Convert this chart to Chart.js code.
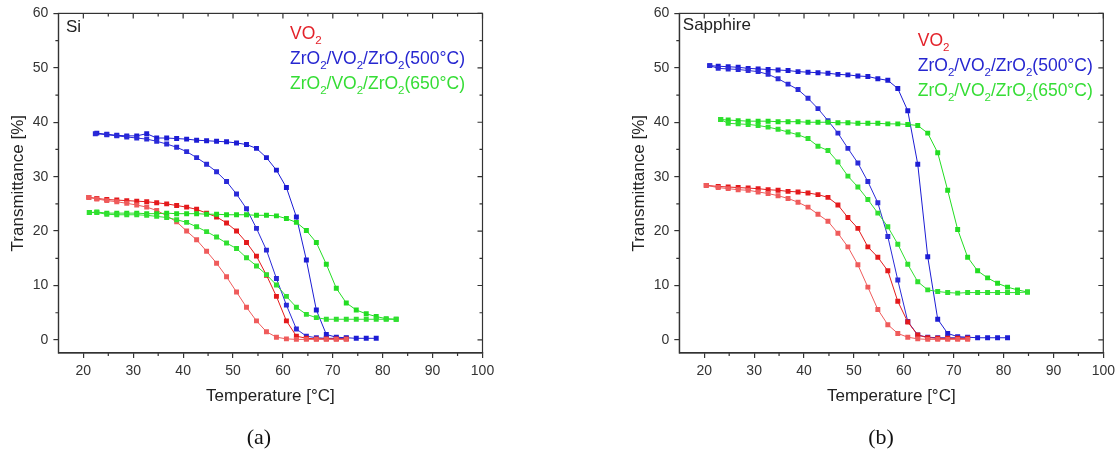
<!DOCTYPE html>
<html>
<head>
<meta charset="utf-8">
<script src="https://cdn.jsdelivr.net/npm/chart.js@4.4.1/dist/chart.umd.min.js"></script>
<style>
body { margin: 0; background: #fff; width: 1120px; height: 452px; overflow: hidden; position: relative; }
.panel { position: absolute; top: 0; width: 560px; height: 452px; }
.cap { position: absolute; top: 425px; width: 60px; line-height: 24px; text-align: center; font-family: "Liberation Serif", "Times New Roman", serif; font-size: 22px; color: #111; }
</style>
</head>
<body>
<div class="panel" style="left:0"><canvas id="chartA" width="560" height="452"></canvas></div>
<div class="panel" style="left:560px"><canvas id="chartB" width="560" height="452"></canvas></div>
<div class="cap" style="left:229px">(a)</div>
<div class="cap" style="left:851px">(b)</div>
<script>
// axis ticks
const xTicks = [20, 30, 40, 50, 60, 70, 80, 90, 100];
const yTicks = [0, 10, 20, 30, 40, 50, 60];

// legend text: [text, isSubscript]
const seriesLabels = [
    [['VO', 0], ['2', 1]],
    [['ZrO', 0], ['2', 1], ['/VO', 0], ['2', 1], ['/ZrO', 0], ['2', 1], ['(500°C)', 0]],
    [['ZrO', 0], ['2', 1], ['/VO', 0], ['2', 1], ['/ZrO', 0], ['2', 1], ['(650°C)', 0]]
];

// ---- (a) Si substrate ----
const redHeatT_A = [21.1, 22.7, 24.7, 26.7, 28.7, 30.7, 32.7, 34.7, 36.7, 38.7, 40.7, 42.7, 44.7, 46.7, 48.7, 50.7, 52.7, 54.7, 56.7, 58.7, 60.7, 62.7, 64.7, 66.7, 68.7, 70.7, 72.7];
const redHeatV_A = [26.2, 26.0, 25.8, 25.7, 25.6, 25.5, 25.4, 25.2, 25.0, 24.7, 24.4, 24.0, 23.3, 22.6, 21.5, 20.0, 17.9, 15.4, 11.9, 8.0, 3.5, 0.7, 0.3, 0.2, 0.2, 0.2, 0.2];
const redCoolV_A = [26.2, 25.9, 25.6, 25.4, 25.1, 24.8, 24.4, 23.8, 22.8, 21.7, 20.0, 18.4, 16.3, 14.1, 11.6, 8.8, 6.0, 3.5, 1.5, 0.5, 0.2, 0.1, 0.1, 0.1, 0.1, 0.1, 0.1];

const blueHeatT_A = [22.7, 24.7, 26.7, 28.7, 30.7, 32.7, 34.7, 36.7, 38.7, 40.7, 42.7, 44.7, 46.7, 48.7, 50.7, 52.7, 54.7, 56.7, 58.7, 60.7, 62.7, 64.7, 66.7, 68.7, 70.7, 72.7, 74.7, 76.7, 78.7];
const blueHeatV_A = [38.0, 37.8, 37.6, 37.5, 37.5, 37.9, 37.1, 37.1, 37.0, 36.9, 36.7, 36.6, 36.5, 36.4, 36.2, 35.9, 35.2, 33.5, 31.2, 28.0, 22.6, 14.7, 5.5, 1.0, 0.5, 0.4, 0.3, 0.3, 0.3];
const blueCoolT_A = [22.4, 24.7, 26.7, 28.7, 30.7, 32.7, 34.7, 36.7, 38.7, 40.7, 42.7, 44.7, 46.7, 48.7, 50.7, 52.7, 54.7, 56.7, 58.7, 60.7, 62.7, 64.7, 66.7, 68.7, 70.7, 72.7];
const blueCoolV_A = [37.9, 37.7, 37.5, 37.3, 37.1, 36.9, 36.5, 36.0, 35.4, 34.6, 33.5, 32.3, 30.9, 29.1, 26.8, 24.1, 20.5, 16.5, 11.3, 6.4, 2.0, 0.7, 0.4, 0.3, 0.3, 0.3];

const greenT_A = [21.2, 22.7, 24.7, 26.7, 28.7, 30.7, 32.7, 34.7, 36.7, 38.7, 40.7, 42.7, 44.7, 46.7, 48.7, 50.7, 52.7, 54.7, 56.7, 58.7, 60.7, 62.7, 64.7, 66.7, 68.7, 70.7, 72.7, 74.7, 76.7, 78.7, 80.7, 82.7];
const greenHeatV_A = [23.4, 23.5, 23.3, 23.3, 23.3, 23.3, 23.2, 23.2, 23.3, 23.2, 23.2, 23.2, 23.1, 23.1, 23.0, 23.0, 23.0, 22.9, 22.9, 22.8, 22.3, 21.6, 20.1, 17.9, 13.9, 9.5, 6.8, 5.5, 4.8, 4.3, 3.9, 3.8];
const greenCoolV_A = [23.4, 23.4, 23.1, 23.0, 23.0, 23.0, 22.9, 22.7, 22.5, 22.1, 21.6, 20.8, 19.9, 18.9, 17.8, 16.8, 15.1, 13.6, 12.0, 10.1, 8.0, 6.0, 4.7, 4.1, 3.8, 3.8, 3.8, 3.8, 3.8, 3.8, 3.8, 3.8];

// ---- (b) Sapphire substrate ----
const redT_B = [20.4, 22.8, 24.8, 26.8, 28.8, 30.8, 32.8, 34.8, 36.8, 38.8, 40.8, 42.8, 44.8, 46.8, 48.8, 50.8, 52.8, 54.8, 56.8, 58.8, 60.8, 62.8, 64.8, 66.8, 68.8, 70.8, 72.8];
const redHeatV_B = [28.4, 28.2, 28.1, 28.0, 27.9, 27.8, 27.6, 27.5, 27.3, 27.2, 27.0, 26.7, 26.2, 24.8, 22.5, 20.5, 17.1, 15.2, 12.7, 7.1, 3.3, 0.9, 0.4, 0.3, 0.3, 0.3, 0.3];
const redCoolV_B = [28.4, 28.0, 27.8, 27.6, 27.5, 27.2, 26.9, 26.5, 26.0, 25.3, 24.4, 23.1, 21.8, 19.6, 17.1, 13.8, 9.7, 5.6, 2.8, 1.2, 0.5, 0.2, 0.1, 0.1, 0.1, 0.1, 0.1];

const blueHeatT_B = [21.1, 22.8, 24.8, 26.8, 28.8, 30.8, 32.8, 34.8, 36.8, 38.8, 40.8, 42.8, 44.8, 46.8, 48.8, 50.8, 52.8, 54.8, 56.8, 58.8, 60.8, 62.8, 64.8, 66.8, 68.8, 70.8, 72.8, 74.8, 76.8, 78.8, 80.8];
const blueHeatV_B = [50.4, 50.3, 50.2, 50.1, 49.9, 49.8, 49.7, 49.6, 49.5, 49.3, 49.2, 49.1, 49.0, 48.8, 48.7, 48.5, 48.4, 48.0, 47.7, 46.2, 42.1, 32.3, 15.3, 3.8, 1.2, 0.6, 0.5, 0.4, 0.4, 0.4, 0.4];
const blueCoolT_B = [21.1, 22.8, 24.8, 26.8, 28.8, 30.8, 32.8, 34.8, 36.8, 38.8, 40.8, 42.8, 44.8, 46.8, 48.8, 50.8, 52.8, 54.8, 56.8, 58.8, 60.8, 62.8, 64.8, 66.8, 68.8, 70.8, 72.8];
const blueCoolV_B = [50.4, 49.9, 49.8, 49.7, 49.5, 49.3, 48.8, 48.0, 47.0, 46.0, 44.4, 42.5, 40.3, 38.0, 35.2, 32.5, 29.1, 25.2, 19.0, 11.0, 3.4, 0.9, 0.5, 0.4, 0.4, 0.4, 0.4];

const greenT_B = [23.3, 24.8, 26.8, 28.8, 30.8, 32.8, 34.8, 36.8, 38.8, 40.8, 42.8, 44.8, 46.8, 48.8, 50.8, 52.8, 54.8, 56.8, 58.8, 60.8, 62.8, 64.8, 66.8, 68.8, 70.8, 72.8, 74.8, 76.8, 78.8, 80.8, 82.8, 84.8];
const greenHeatV_B = [40.5, 40.4, 40.3, 40.2, 40.2, 40.2, 40.1, 40.1, 40.1, 40.0, 40.0, 40.0, 39.9, 39.9, 39.8, 39.8, 39.8, 39.7, 39.7, 39.6, 39.4, 38.0, 34.4, 27.5, 20.3, 15.2, 12.7, 11.4, 10.4, 9.7, 9.2, 8.8];
const greenCoolV_B = [40.5, 39.8, 39.7, 39.6, 39.4, 39.1, 38.7, 38.2, 37.7, 37.0, 35.6, 34.8, 32.7, 30.1, 28.1, 25.8, 23.3, 20.8, 17.6, 13.9, 10.7, 9.2, 8.9, 8.7, 8.6, 8.7, 8.7, 8.7, 8.7, 8.7, 8.7, 8.8];

const RED = '#e41a1c', RED_LIGHT = '#ef5b5b';
const BLUE = '#1c1cd4', BLUE_LIGHT = '#2a2ad8';
const GREEN = '#22dd22', GREEN_LIGHT = '#30e030';
const labelColors = ['#e3222a', '#2626d0', '#35dd35'];
const FONT = '"Liberation Sans", Arial, sans-serif';

function branch(T, V, color) {
    return {
        data: T.map((t, i) => ({ x: t, y: V[i] })),
        borderColor: color,
        backgroundColor: color,
        borderWidth: 1,
        pointStyle: 'rect',
        pointRadius: 3.5,
        pointHoverRadius: 3.5,
        pointBorderWidth: 0,
        tension: 0
    };
}

function drawRich(ctx, parts, x, y, size) {
    parts.forEach(([txt, sub]) => {
        ctx.font = (sub ? size * 0.66 : size) + 'px ' + FONT;
        ctx.fillText(txt, x, sub ? y + size * 0.26 : y);
        x += ctx.measureText(txt).width;
    });
}

const decor = {
    id: 'decor',
    afterDraw(chart, args, o) {
        const { ctx, chartArea: a, scales: { x, y } } = chart;
        ctx.save();
        ctx.strokeStyle = '#333';
        ctx.lineWidth = 1.2;
        ctx.strokeRect(a.left, a.top, a.right - a.left, a.bottom - a.top);
        ctx.beginPath();
        xTicks.forEach(v => {
            const px = x.getPixelForValue(v);
            ctx.moveTo(px, a.top); ctx.lineTo(px, a.top + 5);
            const pm = x.getPixelForValue(v - 5);
            if (v - 5 > x.min) {
                ctx.moveTo(pm, a.bottom); ctx.lineTo(pm, a.bottom + 3);
                ctx.moveTo(pm, a.top); ctx.lineTo(pm, a.top + 3);
            }
        });
        yTicks.forEach(v => {
            const py = y.getPixelForValue(v);
            ctx.moveTo(a.right, py); ctx.lineTo(a.right - 5, py);
            if (v - 5 > y.min) {
                const pm = y.getPixelForValue(v - 5);
                ctx.moveTo(a.left, pm); ctx.lineTo(a.left - 3, pm);
                ctx.moveTo(a.right, pm); ctx.lineTo(a.right - 3, pm);
            }
        });
        ctx.stroke();

        ctx.textAlign = 'left';
        ctx.textBaseline = 'alphabetic';
        ctx.fillStyle = '#222';
        ctx.font = '17px ' + FONT;
        ctx.fillText(o.name, a.left + o.nameDx, a.top + o.nameDy);
        seriesLabels.forEach((parts, i) => {
            ctx.fillStyle = labelColors[i];
            drawRich(ctx, parts, a.left + o.legDx, a.top + o.legDy + i * 25, 17.5);
        });
        ctx.restore();
    }
};

function makePanel(id, datasets, padLeft, padRight, deco) {
    return new Chart(document.getElementById(id), {
        type: 'line',
        data: { datasets },
        plugins: [decor],
        options: {
            responsive: false,
            animation: false,
            layout: { padding: { left: padLeft, right: padRight, top: 12, bottom: 0 } },
            plugins: { legend: { display: false }, tooltip: { enabled: false }, decor: deco },
            scales: {
                x: {
                    type: 'linear', min: 15, max: 100,
                    afterBuildTicks: s => { s.ticks = xTicks.map(v => ({ value: v })); },
                    afterFit: s => { s.height = 99; },
                    ticks: { color: '#333', font: { family: FONT, size: 14 }, padding: 5, maxRotation: 0 },
                    grid: { drawOnChartArea: false, drawTicks: true, tickLength: 5, color: '#333', lineWidth: 1.2 },
                    border: { color: '#333', width: 1.2 },
                    title: { display: true, text: 'Temperature [°C]', color: '#222', font: { family: FONT, size: 17 }, padding: { top: 0, bottom: 45 } }
                },
                y: {
                    type: 'linear', min: -2.4, max: 60,
                    afterBuildTicks: s => { s.ticks = yTicks.map(v => ({ value: v })); },
                    afterFit: s => { s.width = 58.4; },
                    ticks: { color: '#333', font: { family: FONT, size: 14 }, padding: 5 },
                    grid: { drawOnChartArea: false, drawTicks: true, tickLength: 5, color: '#333', lineWidth: 1.2 },
                    border: { color: '#333', width: 1.2 },
                    title: { display: true, text: 'Transmittance [%]', color: '#222', font: { family: FONT, size: 17 }, padding: { top: 8, bottom: 0 } }
                }
            }
        }
    });
}

makePanel('chartA', [
    branch(greenT_A, greenCoolV_A, GREEN_LIGHT),
    branch(greenT_A, greenHeatV_A, GREEN),
    branch(redHeatT_A, redCoolV_A, RED_LIGHT),
    branch(redHeatT_A, redHeatV_A, RED),
    branch(blueCoolT_A, blueCoolV_A, BLUE_LIGHT),
    branch(blueHeatT_A, blueHeatV_A, BLUE)
], 0, 77.5, { name: 'Si', nameDx: 7.5, nameDy: 18.5, legDx: 231.6, legDy: 26 });

makePanel('chartB', [
    branch(greenT_B, greenCoolV_B, GREEN_LIGHT),
    branch(greenT_B, greenHeatV_B, GREEN),
    branch(redT_B, redCoolV_B, RED_LIGHT),
    branch(redT_B, redHeatV_B, RED),
    branch(blueCoolT_B, blueCoolV_B, BLUE_LIGHT),
    branch(blueHeatT_B, blueHeatV_B, BLUE)
], 60.9, 15.7, { name: 'Sapphire', nameDx: 3.5, nameDy: 17, legDx: 238.5, legDy: 33 });
</script>
</body>
</html>
